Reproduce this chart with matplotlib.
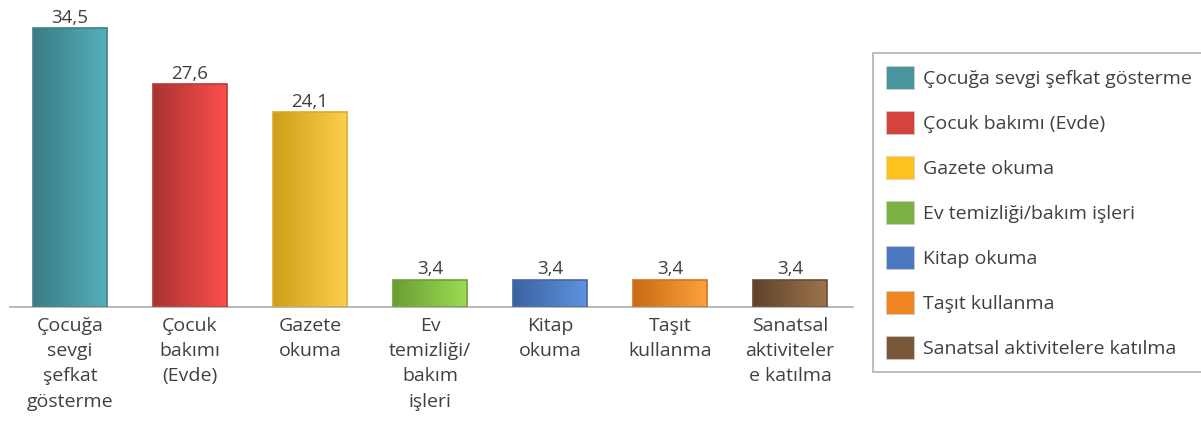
import matplotlib
matplotlib.use("Agg")
import matplotlib.pyplot as plt
import numpy as np
from matplotlib.colors import LinearSegmentedColormap
from matplotlib.patches import Patch

categories = ["Çocuğa sevgi şefkat gösterme", "Çocuk bakımı (Evde)", "Gazete okuma",
              "Ev temizliği/bakım işleri", "Kitap okuma", "Taşıt kullanma",
              "Sanatsal aktivitelere katılma"]
tick_labels = ["Çocuğa\nsevgi\nşefkat\ngösterme", "Çocuk\nbakımı\n(Evde)", "Gazete\nokuma",
               "Ev\ntemizliği/\nbakım\nişleri", "Kitap\nokuma", "Taşıt\nkullanma",
               "Sanatsal\naktiviteler\ne katılma"]
values = [34.5, 27.6, 24.1, 3.4, 3.4, 3.4, 3.4]
value_labels = ["34,5", "27,6", "24,1", "3,4", "3,4", "3,4", "3,4"]

grad_dark = ["#3a7b83", "#a93333", "#cf9e17", "#6a9e34", "#3b629f", "#c96b12", "#5f432a"]
grad_light = ["#54b0bb", "#fd4f4c", "#fcd04a", "#9bdc52", "#5e93e0", "#fba23e", "#9c744d"]
edge_cols = ["#3f8087", "#b53a38", "#d9ab2a", "#6e9f3a", "#44689f", "#d17420", "#6a4b30"]
legend_cols = ["#4a969e", "#d54340", "#fdc21c", "#7bb243", "#4d77c0", "#ef8520", "#7c583a"]

plt.rcParams['font.family'] = ['Open Sans', 'DejaVu Sans']

fig = plt.figure(figsize=(12.01, 4.21), dpi=100)
ax = fig.add_axes([10/1201, 1 - 307/421, 843/1201, 297/421])

x = np.arange(len(values))
bars = ax.bar(x, values, width=0.61, color='none', edgecolor='none', zorder=2)
ax.set_xlim(-0.5, len(values) - 0.5 + 0.025)
ax.set_ylim(0, 297/8.087)

grad = np.linspace(0, 1, 256).reshape(1, -1)
for i, b in enumerate(bars):
    cmap = LinearSegmentedColormap.from_list(f"g{i}", [grad_dark[i], grad_light[i]])
    x0, y0 = b.get_x(), b.get_y()
    w, h = b.get_width(), b.get_height()
    im = ax.imshow(grad, cmap=cmap, aspect='auto', extent=[x0, x0 + w, y0, y0 + h],
                   interpolation='bilinear', zorder=2)
    im.set_clip_path(b)
    ax.add_patch(plt.Rectangle((x0, y0), w, h, fill=False, edgecolor=edge_cols[i],
                               linewidth=1.2, zorder=3))
    ax.text(x0 + w/2, y0 + h + 0.15, value_labels[i], ha='center', va='bottom',
            fontsize=13.5, color='#404040', zorder=4)

for s in ['top', 'right', 'left']:
    ax.spines[s].set_visible(False)
ax.spines['bottom'].set_color('#b3b3b3')
ax.spines['bottom'].set_linewidth(1.3)
ax.set_yticks([])
ax.set_xticks(x)
ax.set_xticklabels(tick_labels, fontsize=14, color='#404040', linespacing=1.52)
ax.tick_params(axis='x', length=0, pad=7)

handles = [Patch(facecolor=c, edgecolor='#d0d0d0', linewidth=0.5) for c in legend_cols]
leg = fig.legend(handles, categories, loc='upper left',
                 bbox_to_anchor=(873/1201, 1 - 53/421), borderaxespad=0, fontsize=14,
                 frameon=True, fancybox=False, handlelength=1.45, handleheight=1.45,
                 labelspacing=1.13, handletextpad=0.45, borderpad=0.65,
                 labelcolor='#404040')
leg.get_frame().set_edgecolor('#a6a6a6')
leg.get_frame().set_linewidth(1.3)

fig.savefig("out.png", dpi=100)
